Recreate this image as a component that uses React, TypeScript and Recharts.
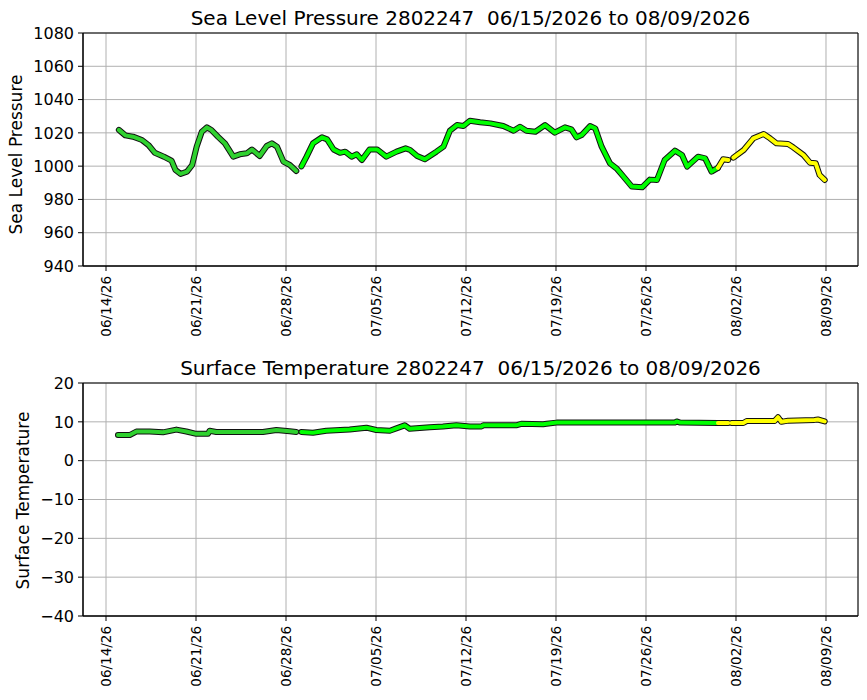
import { LineChart, Line, XAxis, YAxis, CartesianGrid, ReferenceArea } from 'recharts'

// days counted from 06/14/2026 00:00
const pressureDays = [
  1.0, 1.5, 2.1, 2.8, 3.3, 3.8, 4.5, 5.1, 5.4, 5.8, 6.3, 6.7, 7.05, 7.45, 7.85, 8.2, 8.7, 9.25, 9.9, 10.4,
  10.95, 11.35, 11.95, 12.5, 12.9, 13.3, 13.8, 14.3, 14.8,
  15.2, 15.6, 16.1, 16.8, 17.2, 17.7, 18.2, 18.6, 19.1, 19.5, 19.9, 20.5, 21.1, 21.8, 22.6, 23.3, 23.65,
  24.2, 24.8, 25.7, 26.25, 26.75, 27.3, 27.8, 28.3, 29.1, 29.9, 30.9, 31.7, 32.2, 32.7, 33.4, 34.15, 34.9,
  35.7, 36.2, 36.6, 37.0, 37.65, 38.05, 38.55, 39.2, 39.7, 40.25, 40.9, 41.7, 42.3, 42.85, 43.45, 44.25,
  44.8, 45.2, 46.05, 46.6, 47.1, 47.6,
  48.0, 48.4, 48.6, 48.8, 49.6, 50.35, 51.15, 51.65, 52.15, 53.05, 53.45, 54.25, 54.75, 55.2, 55.5, 55.9,
]
const pressureVals = [
  1021.8, 1018.5, 1017.7, 1015.7, 1012.7, 1008, 1005.7, 1003.3, 997.7, 995.3, 996.7, 1000.7, 1011.7, 1020.7,
  1023.3, 1021.7, 1017.7, 1013.7, 1005.7, 1007.1, 1007.7, 1010, 1006.1, 1012.1, 1013.7, 1011.7, 1002.7, 1000.7,
  997.1,
  999.8, 1005.7, 1013.7, 1017.3, 1016.1, 1010, 1008, 1008.7, 1005.7, 1007.1, 1003.7, 1010, 1010, 1005.7, 1008.7,
  1010.7, 1009.7, 1006.1, 1004.1, 1008.7, 1011.7, 1021.3, 1024.7, 1024.1, 1027.3, 1026.4, 1025.7, 1024.1, 1021.3,
  1023.7, 1021.3, 1020.7, 1024.7, 1020.1, 1023.3, 1022.1, 1017.3, 1018.7, 1024.1, 1022.7, 1011.7, 1001.7, 998.7,
  993.7, 987.7, 987.3, 991.9, 991.7, 1003.7, 1009.3, 1006.7, 999.7, 1005.7, 1004.7, 996.7, 999,
  1004.1, 1003.7, null, 1005.1, 1009.7, 1016.7, 1019.3, 1016.7, 1013.7, 1013.3, 1011.3, 1006.7, 1002.1, 1001.7,
  994.7, 991.7,
]

const tempDays = [
  0.93, 1.84, 2.36, 3.4, 4.43, 5.47, 6.25, 7.02, 7.93, 8.06, 8.58, 12.2, 13.25, 14.29, 14.8,
  15.19, 16.1, 17.13, 18.95, 20.25, 21.02, 22.07, 22.58, 23.23, 23.62, 25.18, 26.2, 27.25, 28.3, 29.2, 29.35,
  31.9, 32.3, 34.0, 34.27, 35.05, 44.25, 44.38, 44.65, 47.6,
  48.4, 48.55, 48.66, 49.57, 49.83, 52.0, 52.27, 52.53, 53.05, 55.1, 55.37, 55.9,
]
const tempVals = [
  6.6, 6.6, 7.5, 7.5, 7.3, 8.0, 7.5, 6.9, 6.9, 7.7, 7.4, 7.4, 7.9, 7.6, 7.4,
  7.4, 7.2, 7.7, 8.0, 8.5, 7.9, 7.7, 8.3, 9.1, 8.2, 8.6, 8.8, 9.1, 8.8, 8.8, 9.1,
  9.1, 9.5, 9.4, 9.5, 9.8, 9.8, 10.1, 9.8, 9.7,
  9.7, null, 9.7, 9.7, 10.2, 10.2, 11.2, 10.0, 10.3, 10.5, 10.6, 10.1,
]

const gapDay = 15 // data gap: first (darker) segment ends here
const yellowFrom = 47.6 // readings after this are drawn yellow

const dayTicks = [0, 7, 14, 21, 28, 35, 42, 49, 56]
const pressureTicks = [940, 960, 980, 1000, 1020, 1040, 1060, 1080]
const tempTicks = [-40, -30, -20, -10, 0, 10, 20]

const START = Date.UTC(2026, 5, 14)
const X_DOMAIN: [number, number] = [-1.79, 58.49]
const FONT = '"DejaVu Sans", sans-serif'

const fmtDate = (d: number) => {
  const dt = new Date(START + d * 86400000)
  const mm = String(dt.getUTCMonth() + 1).padStart(2, '0')
  const dd = String(dt.getUTCDate()).padStart(2, '0')
  const yy = String(dt.getUTCFullYear()).slice(2)
  return `${mm}/${dd}/${yy}`
}

const buildRows = (days: number[], vals: (number | null)[]) =>
  days.map((day, i) => {
    const v = vals[i]
    return {
      day,
      dark: day <= gapDay ? v : null,
      green: day > gapDay && day <= yellowFrom ? v : null,
      yellow: day >= yellowFrom ? v : null,
    }
  })

const DateTick = (props: any) => {
  const { x, y, payload } = props
  return (
    <text
      x={x}
      y={y}
      transform={`rotate(-90 ${x} ${y})`}
      textAnchor="end"
      dy="0.35em"
      fontSize={13.5}
      fill="#000"
      fontFamily={FONT}
    >
      {fmtDate(payload.value)}
    </text>
  )
}

const YLabel = (props: any) => {
  const { viewBox, value, cx, shift } = props
  const cy = viewBox.y + viewBox.height / 2 + shift
  return (
    <text
      x={cx}
      y={cy}
      transform={`rotate(-90 ${cx} ${cy})`}
      textAnchor="middle"
      dominantBaseline="central"
      fontSize={17}
      fill="#000"
      fontFamily={FONT}
    >
      {value}
    </text>
  )
}

function Panel({ title, ylabel, rows, yDomain, yTicks, labelX, labelShift }: any) {
  const series = [
    { key: 'dark', color: '#2fd12f' },
    { key: 'green', color: '#00ff00' },
    { key: 'yellow', color: '#ffff00' },
  ]
  return (
    <div style={{ position: 'relative', width: 867, height: 350 }}>
      <div
        style={{
          position: 'absolute',
          left: 83,
          width: 775,
          top: 6,
          textAlign: 'center',
          fontSize: 20,
          fontFamily: FONT,
          whiteSpace: 'pre',
          lineHeight: '24px',
        }}
      >
        {title}
      </div>
      <LineChart width={867} height={350} data={rows} margin={{ top: 33, right: 9, left: 0, bottom: 0 }}>
        <CartesianGrid stroke="#b0b0b0" strokeWidth={1} />
        <XAxis
          dataKey="day"
          type="number"
          domain={X_DOMAIN}
          ticks={dayTicks}
          interval={0}
          allowDataOverflow
          height={84}
          tick={<DateTick />}
          tickSize={5}
          tickMargin={5}
          tickLine={{ stroke: '#000' }}
          axisLine={{ stroke: '#000' }}
        />
        <YAxis
          type="number"
          domain={yDomain}
          ticks={yTicks}
          interval={0}
          allowDataOverflow
          width={83}
          tickSize={5}
          tickMargin={4}
          tickLine={{ stroke: '#000' }}
          axisLine={{ stroke: '#000' }}
          tick={{ fontSize: 16, fill: '#000', fontFamily: FONT }}
          tickFormatter={(v: number) => String(v).replace('-', '\u2212')}
          label={<YLabel value={ylabel} cx={labelX} shift={labelShift} />}
        />
        <ReferenceArea x1={X_DOMAIN[0]} x2={X_DOMAIN[1]} y1={yDomain[0]} y2={yDomain[1]} fill="none" stroke="#000" strokeWidth={1} />
        {series.map(s => (
          <Line
            key={s.key + '-edge'}
            dataKey={s.key}
            type="linear"
            stroke="#111"
            strokeWidth={6}
            strokeLinecap="round"
            strokeLinejoin="round"
            dot={false}
            activeDot={false}
            isAnimationActive={false}
          />
        ))}
        {series.map(s => (
          <Line
            key={s.key}
            dataKey={s.key}
            type="linear"
            stroke={s.color}
            strokeWidth={4}
            strokeLinecap="round"
            strokeLinejoin="round"
            dot={false}
            activeDot={false}
            isAnimationActive={false}
          />
        ))}
      </LineChart>
    </div>
  )
}

export default function App() {
  return (
    <div style={{ position: 'absolute', left: 0, top: 0, width: 867, height: 700, background: '#fff', fontFamily: FONT }}>
      <Panel
        title="Sea Level Pressure 2802247  06/15/2026 to 08/09/2026"
        ylabel="Sea Level Pressure"
        rows={buildRows(pressureDays, pressureVals)}
        yDomain={[940, 1080]}
        yTicks={pressureTicks}
        labelX={16}
        labelShift={5}
      />
      <Panel
        title="Surface Temperature 2802247  06/15/2026 to 08/09/2026"
        ylabel="Surface Temperature"
        rows={buildRows(tempDays, tempVals)}
        yDomain={[-40, 20]}
        yTicks={tempTicks}
        labelX={23}
        labelShift={1}
      />
    </div>
  )
}
